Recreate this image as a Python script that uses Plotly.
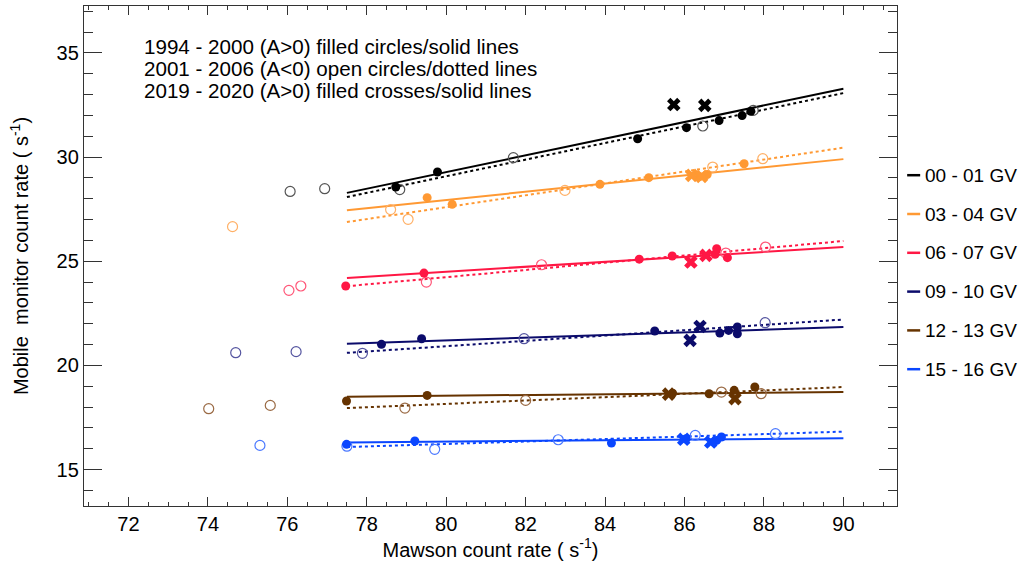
import plotly.graph_objects as go

# ---------------- data ----------------
bands = ["00 - 01 GV", "03 - 04 GV", "06 - 07 GV", "09 - 10 GV", "12 - 13 GV", "15 - 16 GV"]

# regression lines (Mawson rate at the two ends of each line)
fit_x = [77.5, 90.0]
solid_fit_y = [[28.28, 33.28], [27.45, 29.90], [24.20, 25.68], [21.04, 21.84], [18.50, 18.72], [16.30, 16.50]]
dotted_fit_y = [[28.08, 33.07], [26.88, 30.45], [23.80, 25.97], [20.60, 22.20], [17.95, 18.96], [16.08, 16.82]]

# 1994 - 2000 (A>0) filled circles
filled_x = [
    [78.73, 79.78, 84.82, 86.05, 86.87, 87.45, 87.67],
    [79.52, 80.15, 83.87, 85.10, 86.37, 86.57, 87.50],
    [77.47, 79.44, 84.86, 85.69, 86.77, 86.81, 87.08],
    [78.37, 79.38, 85.25, 86.89, 87.11, 87.33, 87.33],
    [77.49, 79.52, 85.70, 86.62, 87.25, 87.77],
    [77.49, 79.21, 84.16, 86.04, 86.81, 86.93],
]
filled_y = [
    [28.56, 29.28, 30.88, 31.41, 31.75, 31.99, 32.20],
    [28.05, 27.73, 28.69, 29.01, 29.05, 29.16, 29.68],
    [23.81, 24.43, 25.10, 25.25, 25.33, 25.60, 25.17],
    [21.01, 21.28, 21.65, 21.55, 21.68, 21.84, 21.52],
    [18.29, 18.56, 18.66, 18.64, 18.80, 18.96],
    [16.21, 16.37, 16.27, 16.48, 16.40, 16.56],
]

# 2001 - 2006 (A<0) open circles
open_x = [
    [76.07, 76.94, 78.83, 81.69, 86.46, 87.73],
    [74.62, 78.60, 79.04, 82.99, 86.71, 87.97],
    [76.04, 76.34, 79.50, 82.40, 87.04, 88.04],
    [74.70, 76.22, 77.89, 81.96, 88.03],
    [74.02, 75.57, 78.96, 82.00, 86.93, 87.93],
    [75.31, 77.50, 79.71, 82.82, 86.27, 88.29],
]
open_y = [
    [28.35, 28.48, 28.44, 29.97, 31.49, 32.24],
    [26.66, 27.48, 27.01, 28.40, 29.52, 29.92],
    [23.60, 23.81, 24.00, 24.83, 25.39, 25.68],
    [20.61, 20.66, 20.58, 21.28, 22.05],
    [17.92, 18.08, 17.95, 18.32, 18.72, 18.64],
    [16.16, 16.12, 15.97, 16.43, 16.64, 16.72],
]

# 2019 - 2020 (A>0) filled crosses
cross_x = [
    [85.73, 86.51],
    [86.18, 86.43],
    [86.16, 86.54],
    [86.14, 86.39],
    [85.60, 87.27],
    [85.98, 86.66],
]
cross_y = [
    [32.52, 32.48],
    [29.12, 29.07],
    [24.96, 25.28],
    [21.20, 21.87],
    [18.62, 18.40],
    [16.45, 16.32],
]

note_lines = [
    "1994 - 2000 (A>0) filled circles/solid lines",
    "2001 - 2006 (A<0) open circles/dotted lines",
    "2019 - 2020 (A>0) filled crosses/solid lines",
]

x_ticks = [72, 74, 76, 78, 80, 82, 84, 86, 88, 90]
y_ticks = [15, 20, 25, 30, 35]

# ---------------- styles ----------------
colors = ["#000000", "#ff9933", "#ff1744", "#0b0b6b", "#663300", "#0a46ff"]
open_colors = ["#555555", "#ffb066", "#ff5577", "#5555a0", "#9a6a44", "#4a78ff"]
FONT = "Liberation Sans, Arial, Helvetica, sans-serif"

fig = go.Figure()

for i, name in enumerate(bands):
    c = colors[i]
    fig.add_trace(go.Scatter(x=fit_x, y=dotted_fit_y[i], mode="lines",
                             line=dict(color=c, width=2, dash="dot"),
                             showlegend=False, hoverinfo="skip"))
    fig.add_trace(go.Scatter(x=fit_x, y=solid_fit_y[i], mode="lines", name=name,
                             line=dict(color=c, width=2),
                             showlegend=False))
    fig.add_trace(go.Scatter(x=open_x[i], y=open_y[i], mode="markers",
                             marker=dict(symbol="circle-open", size=10, color=open_colors[i],
                                         line=dict(width=1.2, color=open_colors[i])),
                             showlegend=False))
    fig.add_trace(go.Scatter(x=filled_x[i], y=filled_y[i], mode="markers",
                             marker=dict(symbol="circle", size=9, color=c, line=dict(width=0)),
                             showlegend=False))
    fig.add_trace(go.Scatter(x=cross_x[i], y=cross_y[i], mode="markers",
                             marker=dict(symbol="x", size=12, color=c, line=dict(width=0)),
                             showlegend=False))

# manual legend on the right (short line + label)
leg_y0 = 0.6616
leg_step = 0.0776
for i, name in enumerate(bands):
    yy = leg_y0 - i * leg_step
    fig.add_shape(type="line", xref="paper", yref="paper",
                  x0=1.0125, x1=1.0285, y0=yy, y1=yy,
                  line=dict(color=colors[i], width=2.5))
    fig.add_annotation(x=1.032, y=yy, xref="paper", yref="paper", text=name,
                       showarrow=False, xanchor="left", yanchor="middle",
                       font=dict(size=19, color="#000", family=FONT))

# note in the upper left
for j, line in enumerate(note_lines):
    fig.add_annotation(x=0.0715, y=0.9194 - j * 0.044, xref="paper", yref="paper", text=line,
                       showarrow=False, xanchor="left", yanchor="middle",
                       font=dict(size=20.6, color="#000", family=FONT))

axis_common = dict(showline=True, linecolor="#333", linewidth=1.3, mirror="allticks",
                   ticks="inside", tickcolor="#333", tickwidth=1.2,
                   showgrid=False, zeroline=False,
                   tickfont=dict(size=20, color="#000", family=FONT))

fig.update_xaxes(range=[70.88, 91.35], tickvals=x_ticks, ticklen=9,
                 minor=dict(dtick=0.5, tick0=70, ticklen=4, ticks="inside", tickcolor="#333", showgrid=False),
                 title=dict(text="Mawson count rate ( s<sup>-1</sup>)", standoff=5,
                            font=dict(size=20, color="#000", family=FONT)),
                 **axis_common)
fig.update_yaxes(range=[13.25, 37.25], tickvals=y_ticks, ticklen=18,
                 minor=dict(dtick=1, tick0=0, ticklen=9, ticks="inside", tickcolor="#333", showgrid=False),
                 title=dict(text="Mobile\u00a0 monitor count rate ( s<sup>-1</sup>)", standoff=22,
                            font=dict(size=20, color="#000", family=FONT)),
                 **axis_common)

fig.update_layout(width=1025, height=561,
                  margin=dict(l=84, r=128, t=6, b=55, autoexpand=False),
                  plot_bgcolor="white", paper_bgcolor="white",
                  showlegend=False, font=dict(family=FONT, color="#000"))

fig.write_html("out.html", config={"displayModeBar": False},
               post_script="document.body.style.margin='0';")
